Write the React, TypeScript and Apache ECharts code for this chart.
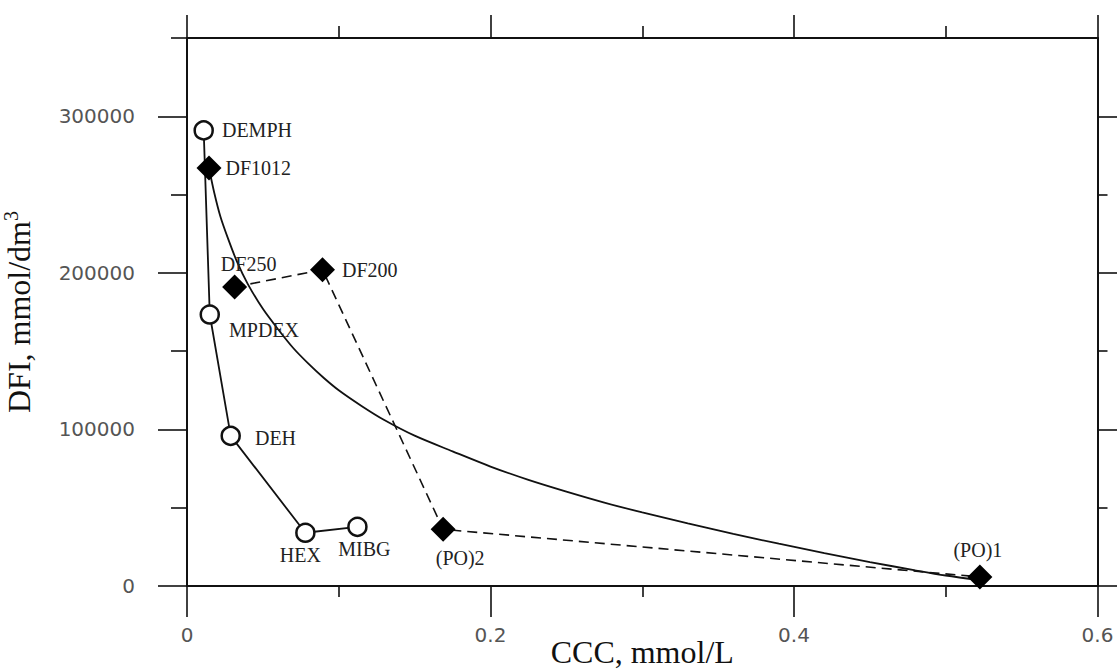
import React, { useEffect, useRef } from "react";
import * as echarts from "echarts";

// ---- Axis ticks ----
const xMajorTicks = [0, 0.2, 0.4, 0.6];
const xMinorTicks = [0.1, 0.3, 0.5];
const yMajorTicks = [0, 100000, 200000, 300000];
const yMinorTicksLeft = [50000, 150000, 250000, 350000];
const yMinorTicksRight = [50000, 150000, 250000];

// ---- Open circles (solid polyline) ----
const circleNames = ["DEMPH", "MPDEX", "DEH", "HEX", "MIBG"];
const circleCCC = [0.011, 0.015, 0.0288, 0.078, 0.1123];
const circleDFI = [291000, 173400, 95900, 34000, 37800];

// ---- Filled diamonds (dashed polyline) ----
const diamondNames = ["DF250", "DF200", "(PO)2", "(PO)1"];
const diamondCCC = [0.0314, 0.0893, 0.1688, 0.5225];
const diamondDFI = [191000, 202000, 36200, 5800];

// ---- Lone diamond ----
const loneNames = ["DF1012"];
const loneCCC = [0.0145];
const loneDFI = [267000];

// ---- Fitted curve ----
const curveCCC = [
  0.0145, 0.018, 0.022, 0.027, 0.033, 0.04, 0.05, 0.06, 0.07, 0.08, 0.09, 0.1, 0.115, 0.13,
  0.15, 0.175, 0.2, 0.225, 0.25, 0.275, 0.3, 0.33, 0.36, 0.39, 0.42, 0.45, 0.48, 0.5, 0.5225,
];
const curveDFI = [
  267000, 251000, 236000, 222000, 207000, 193000, 177000, 164000, 152000, 142000, 133000, 125000, 115000, 106000,
  96000, 86000, 76300, 67800, 60300, 53300, 47000, 40000, 33300, 27000, 21000, 15300, 10000, 6700, 3800,
];

const labelStyles: Record<string, any> = {
  DEMPH: { position: "right", distance: 8 },
  MPDEX: { position: "right", distance: 9, offset: [0, 15] },
  DEH: { position: "right", distance: 14, offset: [0, 2] },
  HEX: { position: "bottom", distance: 2, offset: [-5, 0] },
  MIBG: { position: "bottom", distance: 2, offset: [7, 0] },
  DF250: { position: "top", distance: 0, offset: [14, 0] },
  DF200: { position: "right", distance: 7 },
  "(PO)2": { position: "bottom", distance: 6, offset: [17, 0] },
  "(PO)1": { position: "top", distance: 4, offset: [-2, 0] },
  DF1012: { position: "right", distance: 4 },
};

const SERIF = "'Liberation Serif', 'Times New Roman', serif";
const SANS = "'DejaVu Sans', sans-serif";
const INK = "#111";

function pts(names: string[], xs: number[], ys: number[]) {
  return names.map((n, i) => ({
    name: n,
    value: [xs[i], ys[i]],
    label: {
      show: true,
      formatter: n,
      fontFamily: SERIF,
      fontSize: 20,
      color: "#222",
      ...labelStyles[n],
    },
  }));
}

export default function App() {
  const ref = useRef<HTMLDivElement>(null);

  useEffect(() => {
    if (!ref.current) return;
    const chart = echarts.init(ref.current, undefined, { renderer: "svg" });

    const axisLine = { show: true, onZero: false, lineStyle: { color: INK, width: 2 } };
    const noLine = { show: false, onZero: false };
    const tickStyle = { color: INK, width: 1.6 };

    const xBase = { type: "value", min: 0, max: 0.6, splitLine: { show: false } };
    const yBase = { type: "value", min: 0, max: 350000, splitLine: { show: false } };

    const option: any = {
      animation: false,
      backgroundColor: "#fff",
      grid: { left: 187, right: 19.5, top: 38, bottom: 83, containLabel: false, outerBoundsMode: "none" },
      xAxis: [
        {
          ...xBase,
          position: "bottom",
          axisLine,
          axisTick: { show: true, inside: false, length: 31, lineStyle: tickStyle, customValues: xMajorTicks },
          axisLabel: {
            show: true,
            customValues: xMajorTicks,
            formatter: (v: number) => String(v),
            fontFamily: SANS,
            fontSize: 20,
            color: "#555",
            margin: 39,
          },
          name: "CCC, mmol/L",
          nameLocation: "middle",
          nameGap: 50,
          nameMoveOverlap: false,
          nameTextStyle: { fontFamily: SERIF, fontSize: 32, color: INK },
        },
        {
          ...xBase,
          position: "bottom",
          axisLine: noLine,
          axisTick: { show: true, length: 11, lineStyle: tickStyle, customValues: xMinorTicks },
          axisLabel: { show: false },
        },
        {
          ...xBase,
          position: "top",
          axisLine,
          axisTick: { show: true, length: 23, lineStyle: tickStyle, customValues: xMajorTicks },
          axisLabel: { show: false },
        },
        {
          ...xBase,
          position: "top",
          axisLine: noLine,
          axisTick: { show: true, length: 12, lineStyle: tickStyle, customValues: xMinorTicks },
          axisLabel: { show: false },
        },
      ],
      yAxis: [
        {
          ...yBase,
          position: "left",
          axisLine,
          axisTick: { show: true, length: 29, lineStyle: tickStyle, customValues: yMajorTicks },
          axisLabel: {
            show: true,
            customValues: yMajorTicks,
            formatter: (v: number) => String(v),
            fontFamily: SANS,
            fontSize: 20,
            color: "#555",
            margin: 52,
          },
          name: "DFI, mmol/dm{sup|3}",
          nameLocation: "middle",
          nameGap: 150,
          nameMoveOverlap: false,
          nameTextStyle: {
            fontFamily: SERIF,
            fontSize: 32,
            color: INK,
            lineHeight: 36,
            rich: {
              sup: { fontFamily: SERIF, fontSize: 20, color: INK, verticalAlign: "top", lineHeight: 20 },
            },
          },
        },
        {
          ...yBase,
          position: "left",
          axisLine: noLine,
          axisTick: { show: true, length: 16, lineStyle: tickStyle, customValues: yMinorTicksLeft },
          axisLabel: { show: false },
        },
        {
          ...yBase,
          position: "right",
          axisLine,
          axisTick: { show: true, length: 20, lineStyle: tickStyle, customValues: yMajorTicks },
          axisLabel: { show: false },
        },
        {
          ...yBase,
          position: "right",
          axisLine: noLine,
          axisTick: { show: true, length: 10, lineStyle: tickStyle, customValues: yMinorTicksRight },
          axisLabel: { show: false },
        },
      ],
      series: [
        {
          type: "line",
          name: "fit",
          xAxisIndex: 0,
          yAxisIndex: 0,
          data: curveCCC.map((x, i) => [x, curveDFI[i]]),
          smooth: 0.3,
          showSymbol: false,
          symbol: "none",
          lineStyle: { color: INK, width: 1.8 },
          z: 2,
          silent: true,
        },
        {
          type: "line",
          name: "circles",
          xAxisIndex: 0,
          yAxisIndex: 0,
          data: pts(circleNames, circleCCC, circleDFI),
          symbol: "circle",
          symbolSize: 18,
          itemStyle: { color: "#fff", borderColor: INK, borderWidth: 2.5 },
          lineStyle: { color: INK, width: 1.8 },
          z: 3,
        },
        {
          type: "line",
          name: "diamonds",
          xAxisIndex: 0,
          yAxisIndex: 0,
          data: pts(diamondNames, diamondCCC, diamondDFI),
          symbol: "diamond",
          symbolSize: 25,
          itemStyle: { color: "#000" },
          lineStyle: { color: INK, width: 1.6, type: [10, 6] },
          z: 4,
        },
        {
          type: "scatter",
          name: "lone",
          xAxisIndex: 0,
          yAxisIndex: 0,
          data: pts(loneNames, loneCCC, loneDFI),
          symbol: "diamond",
          symbolSize: 25,
          itemStyle: { color: "#000", opacity: 1 },
          z: 5,
        },
      ],
    };

    chart.setOption(option);
    return () => chart.dispose();
  }, []);

  return (
    <div
      ref={ref}
      style={{ position: "absolute", left: 0, top: 0, width: 1117, height: 669, background: "#fff" }}
    />
  );
}
